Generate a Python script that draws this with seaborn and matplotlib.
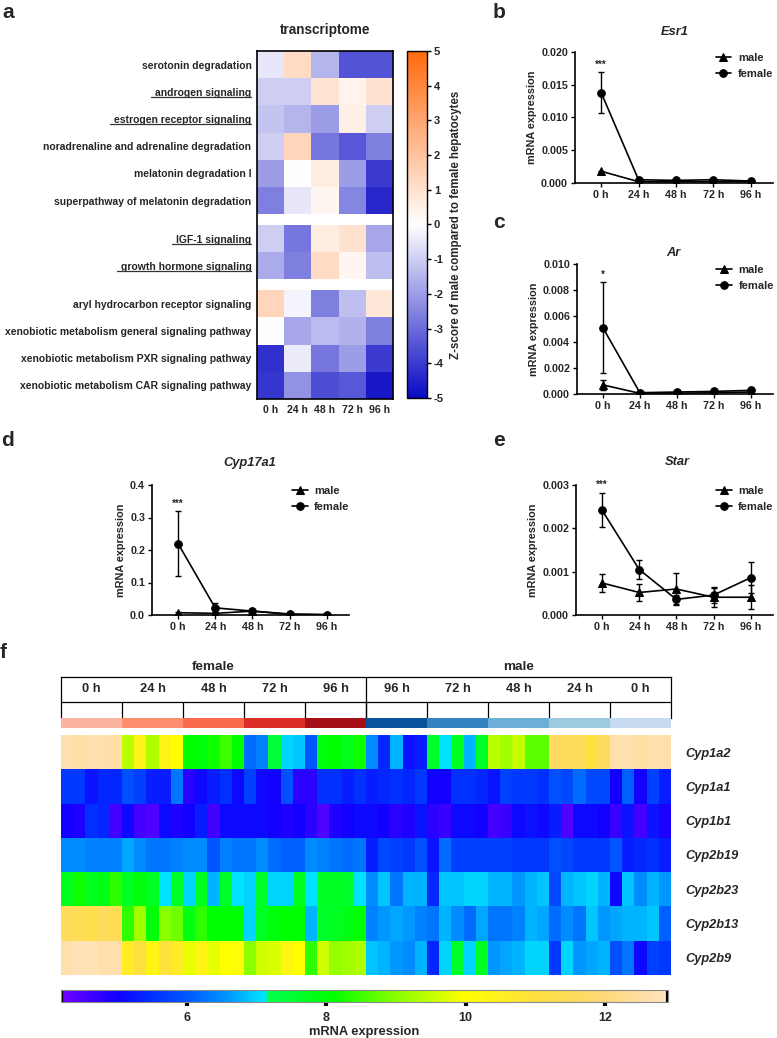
import numpy as np
import pandas as pd
import matplotlib
matplotlib.use("Agg")
import matplotlib.pyplot as plt
import seaborn as sns
from matplotlib.colors import LinearSegmentedColormap, ListedColormap
from matplotlib.lines import Line2D

sns.set_theme(style="white")
plt.rcParams["font.family"] = ["Liberation Sans", "DejaVu Sans"]
plt.rcParams["font.weight"] = "bold"
plt.rcParams["axes.labelweight"] = "bold"
plt.rcParams["axes.titleweight"] = "bold"
plt.rcParams["axes.unicode_minus"] = False

# ---- panel a: pathway z-scores ----
pathways = [
    "serotonin degradation", "androgen signaling", "estrogen receptor signaling",
    "noradrenaline and adrenaline degradation", "melatonin degradation I",
    "superpathway of melatonin degradation", "IGF-1 signaling", "growth hormone signaling",
    "aryl hydrocarbon receptor signaling", "xenobiotic metabolism general signaling pathway",
    "xenobiotic metabolism PXR signaling pathway", "xenobiotic metabolism CAR signaling pathway",
]
underlined = ["androgen signaling", "estrogen receptor signaling", "IGF-1 signaling", "growth hormone signaling"]
times = ["0 h", "24 h", "48 h", "72 h", "96 h"]
z_0h = [-0.5, -1.0, -1.2, -1.0, -2.0, -2.6, -1.0, -1.7, 1.4, 0.0, -4.2, -4.1]
z_24h = [1.2, -1.0, -1.5, 1.4, 0.0, -0.5, -2.8, -2.6, -0.2, -1.8, -0.4, -2.2]
z_48h = [-1.5, 0.9, -2.0, -2.8, 0.6, 0.3, 0.6, 1.2, -2.6, -1.4, -2.8, -3.6]
z_72h = [-3.5, 0.4, 0.5, -3.4, -2.0, -2.5, 1.0, 0.3, -1.3, -1.6, -2.0, -3.4]
z_96h = [-3.5, 1.0, -1.0, -2.6, -4.0, -4.4, -1.8, -1.3, 0.8, -2.6, -4.0, -4.7]

# ---- panels b-e: qPCR means and error ----
esr1_male = [0.0018, 0.0002, 0.0002, 0.0002, 0.0002]
esr1_male_err = [0.0001, 0.00005, 0.00005, 0.00005, 0.00005]
esr1_female = [0.0138, 0.0005, 0.0004, 0.0005, 0.0003]
esr1_female_err = [0.0031, 0.0001, 0.0001, 0.0001, 0.0001]

ar_male = [0.0007, 0.00005, 0.00005, 0.0001, 0.00015]
ar_male_err = [0.0004, 0.00003, 0.00003, 0.00003, 0.00003]
ar_female = [0.0051, 0.0001, 0.00015, 0.0002, 0.00028]
ar_female_err = [0.0035, 0.00003, 0.00003, 0.00005, 0.00005]

cyp17_male = [0.007, 0.005, 0.012, 0.003, 0.001]
cyp17_male_err = [0.003, 0.003, 0.004, 0.002, 0.001]
cyp17_female = [0.22, 0.022, 0.012, 0.002, 0.001]
cyp17_female_err = [0.10, 0.015, 0.006, 0.002, 0.001]

star_male = [0.00074, 0.00052, 0.0006, 0.00041, 0.00041]
star_male_err = [0.00021, 0.0002, 0.00037, 0.00022, 0.00028]
star_female = [0.00242, 0.00105, 0.00036, 0.00046, 0.00086]
star_female_err = [0.0004, 0.00023, 0.0001, 0.00018, 0.00036]

# ---- panel f: Cyp expression, 50 samples ----
genes = ["Cyp1a2", "Cyp1a1", "Cyp1b1", "Cyp2b19", "Cyp2b23", "Cyp2b13", "Cyp2b9"]
group_labels = ["0 h", "24 h", "48 h", "72 h", "96 h", "96 h", "72 h", "48 h", "24 h", "0 h"]
group_colors = ["#fcb4a0", "#fc8d6e", "#fb6a4a", "#dc2e26", "#a50f15",
                "#08529c", "#3383c0", "#6baed6", "#9ecae1", "#c6dbef"]
cyp1a2 = [12.6, 12.5, 12.6, 12.6, 12.5, 9.4, 10.4, 9.3, 10.3, 10.0, 8.1, 8.0, 8.2, 8.5, 8.1,
          6.2, 6.4, 7.4, 7.0, 6.9, 6.0, 8.0, 8.1, 7.8, 8.2, 6.5, 5.4, 6.8, 5.2, 5.3,
          7.6, 7.1, 7.7, 6.8, 7.6, 9.4, 9.2, 9.5, 8.7, 8.7, 11.6, 11.5, 11.5, 11.0, 11.6,
          12.6, 12.6, 12.5, 12.6, 12.6]
cyp1a1 = [5.6, 5.6, 5.2, 5.4, 5.4, 5.9, 5.7, 5.3, 5.3, 6.3, 4.8, 5.1, 5.3, 5.5, 5.1,
          5.7, 5.1, 5.0, 5.9, 4.8, 4.8, 5.5, 5.5, 5.3, 5.5, 5.3, 5.4, 5.5, 5.4, 5.6,
          5.0, 5.0, 5.5, 5.5, 5.4, 5.2, 5.7, 5.6, 5.6, 5.5, 5.9, 5.8, 6.2, 5.8, 5.8,
          5.0, 6.1, 5.0, 5.7, 5.3]
cyp1b1 = [5.0, 4.9, 5.5, 5.4, 4.6, 5.1, 4.6, 4.5, 5.1, 4.9, 5.0, 5.3, 4.6, 5.1, 5.1,
          5.1, 5.1, 5.0, 4.9, 5.0, 4.8, 4.5, 4.9, 5.0, 5.1, 5.1, 5.0, 4.8, 4.9, 5.2,
          4.8, 4.7, 5.1, 5.1, 5.0, 4.6, 4.7, 5.1, 5.2, 5.1, 5.3, 4.5, 5.1, 5.1, 5.0,
          4.7, 5.2, 4.6, 5.2, 4.9]
cyp2b19 = [6.5, 6.5, 6.4, 6.4, 6.4, 6.7, 6.5, 6.3, 6.3, 6.4, 6.5, 6.5, 6.0, 6.4, 6.3,
           6.3, 6.5, 6.2, 6.1, 6.1, 6.5, 6.4, 6.3, 6.2, 6.3, 5.3, 5.8, 5.7, 5.6, 5.9,
           5.2, 6.2, 5.7, 5.7, 5.7, 5.7, 5.7, 5.6, 5.6, 5.6, 5.9, 5.8, 5.6, 5.6, 5.6,
           6.0, 5.3, 5.4, 5.5, 5.3]
cyp2b23 = [7.8, 8.2, 7.8, 7.9, 8.4, 7.7, 8.0, 7.7, 7.1, 7.6, 7.0, 7.8, 6.8, 7.6, 7.1,
           7.0, 7.6, 7.0, 7.0, 7.8, 7.1, 7.7, 7.7, 7.6, 7.1, 6.5, 6.9, 6.3, 6.8, 6.8,
           5.4, 6.9, 6.9, 7.0, 7.0, 6.8, 6.8, 6.6, 6.8, 6.9, 5.8, 6.8, 6.9, 7.0, 6.8,
           5.1, 6.9, 6.5, 6.8, 6.6]
cyp2b13 = [11.5, 11.4, 11.2, 11.5, 11.4, 8.4, 9.2, 8.0, 9.0, 8.8, 7.9, 8.4, 8.1, 8.1, 8.1,
           7.0, 7.7, 8.0, 8.1, 8.1, 6.8, 7.6, 7.7, 7.9, 8.1, 6.4, 6.6, 6.7, 6.6, 6.4,
           6.3, 6.8, 6.5, 6.2, 6.7, 6.3, 6.3, 6.4, 6.8, 6.7, 6.2, 6.5, 6.3, 6.9, 6.6,
           6.7, 6.8, 6.8, 6.9, 6.1]
cyp2b9 = [12.6, 12.7, 12.7, 12.6, 12.6, 10.6, 11.0, 10.3, 10.9, 10.6, 9.8, 10.3, 9.8, 10.0, 10.1,
          9.0, 9.6, 9.7, 10.3, 10.0, 8.4, 9.6, 9.1, 9.2, 9.3, 6.9, 6.8, 6.6, 6.5, 6.8,
          5.4, 7.0, 7.6, 7.0, 7.7, 6.6, 6.7, 6.8, 7.0, 7.0, 5.6, 7.0, 6.6, 6.7, 6.8,
          5.9, 6.3, 5.1, 5.7, 5.6]

W, H = 777, 1038
fig = plt.figure(figsize=(W / 100, H / 100), dpi=100)


def px_axes(x0, y0, x1, y1):
    return fig.add_axes([x0 / W, 1 - y1 / H, (x1 - x0) / W, (y1 - y0) / H])


# panel a
z_df = pd.DataFrame({"0 h": z_0h, "24 h": z_24h, "48 h": z_48h, "72 h": z_72h, "96 h": z_96h},
                    index=pathways)
blocks = [(0, 6), (6, 8), (8, 12)]
rows, ticks, pos = [], [], 0
for b, (s, e) in enumerate(blocks):
    if b > 0:
        rows += [np.full(5, np.nan)] * 2
        pos += 2
    for i in range(s, e):
        rows += [z_df.iloc[i].values] * 5
        ticks.append(pos + 2.5)
        pos += 5
z_mat = np.array(rows)

z_cmap = LinearSegmentedColormap.from_list("z", ["#0a0ac4", "#ffffff", "#ff6a0e"])
ax_a = px_axes(257, 51, 393, 399)
cax_a = px_axes(407, 51, 427, 398)
sns.heatmap(z_mat, cmap=z_cmap, vmin=-5, vmax=5, ax=ax_a, cbar_ax=cax_a,
            xticklabels=times, yticklabels=False)
ax_a.set_yticks(ticks)
ax_a.set_yticklabels(pathways, fontsize=7.5, rotation=0)
ax_a.set_xticklabels(times, fontsize=7.6, rotation=0)
ax_a.tick_params(length=0, pad=4)
for sp in ax_a.spines.values():
    sp.set_visible(True)
    sp.set_color("black")
    sp.set_linewidth(1.2)
fig.text(325 / W, 1 - 30 / H, "transcriptome", ha="center", va="center", fontsize=9.8)
cb_a = ax_a.collections[0].colorbar
cb_a.set_ticks(range(-5, 6))
cb_a.ax.tick_params(labelsize=8, length=3, width=1, color="black", pad=2)
cb_a.outline.set_edgecolor("black")
cb_a.outline.set_linewidth(1)
cb_a.set_label("Z-score of male compared to female hepatocytes", fontsize=8.3, labelpad=4)


# panels b-e
def line_panel(rect, title, title_xy, male, male_err, female, female_err, ylim, yticks, fmt, star):
    ax = px_axes(*rect)
    df = pd.DataFrame({"time": times * 2, "value": male + female,
                       "sex": ["male"] * 5 + ["female"] * 5})
    sns.lineplot(data=df, x="time", y="value", style="sex", markers={"male": "^", "female": "o"},
                 dashes=False, color="black", markersize=5.5, markeredgecolor="black",
                 linewidth=1.2, sort=False, ax=ax)
    ax.errorbar(range(5), male, yerr=male_err, fmt="none", ecolor="black", elinewidth=1, capsize=2)
    ax.errorbar(range(5), female, yerr=female_err, fmt="none", ecolor="black", elinewidth=1, capsize=2)
    ax.text(0, female[0] + female_err[0] + ylim * 0.02, star, ha="center", va="bottom", fontsize=7)
    ax.set_xlim(-0.7, 4.6)
    ax.set_ylim(0, ylim)
    ax.set_yticks(yticks)
    ax.set_yticklabels([fmt.format(t) for t in yticks])
    ax.set_xlabel("")
    ax.set_ylabel("mRNA expression", fontsize=7.8, labelpad=3)
    for s in ["top", "right"]:
        ax.spines[s].set_visible(False)
    for s in ["left", "bottom"]:
        ax.spines[s].set_color("black")
        ax.spines[s].set_linewidth(1.2)
    ax.tick_params(axis="both", labelsize=7.7, length=3, width=1, color="black", direction="out",
                   left=True, bottom=True, pad=2)
    h, l = ax.get_legend_handles_labels()
    keep = [(hh, ll) for hh, ll in zip(h, l) if ll in ("male", "female")]
    ax.legend([k[0] for k in keep], [k[1] for k in keep], frameon=False, loc="upper left",
              bbox_to_anchor=(0.66, 1.07), fontsize=8, handlelength=1.4, handletextpad=0.6,
              labelspacing=0.55)
    fig.text(title_xy[0] / W, 1 - title_xy[1] / H, title, ha="center", va="center",
             fontsize=9.3, style="italic")
    return ax


line_panel((575, 52, 773, 183), "Esr1", (675, 32), esr1_male, esr1_male_err, esr1_female,
           esr1_female_err, 0.020, [0, 0.005, 0.010, 0.015, 0.020], "{:.3f}", "***")
line_panel((577, 264, 773, 394), "Ar", (673, 253), ar_male, ar_male_err, ar_female,
           ar_female_err, 0.010, [0, 0.002, 0.004, 0.006, 0.008, 0.010], "{:.3f}", "*")
line_panel((152, 485, 349, 615), "Cyp17a1", (250, 463), cyp17_male, cyp17_male_err, cyp17_female,
           cyp17_female_err, 0.4, [0, 0.1, 0.2, 0.3, 0.4], "{:.1f}", "***")
line_panel((576, 485, 773, 615), "Star", (677, 462), star_male, star_male_err, star_female,
           star_female_err, 0.003, [0, 0.001, 0.002, 0.003], "{:.3f}", "***")

# panel f header
hx = px_axes(61, 677, 671, 718)
hx.set_xlim(0, 50)
hx.set_ylim(0, 1)
hx.set_xticks([])
hx.set_yticks([])
for s in ["top", "left", "right"]:
    hx.spines[s].set_visible(True)
    hx.spines[s].set_color("black")
    hx.spines[s].set_linewidth(0.9)
hx.spines["bottom"].set_visible(False)
hx.axhline(0.39, color="black", lw=0.9)
hx.axvline(25, color="black", lw=0.9)
for b in range(5, 50, 5):
    hx.plot([b, b], [0, 0.39], color="black", lw=0.9)
for i, g in enumerate(group_labels):
    hx.text(2.5 + 5 * i, 0.70, g, ha="center", va="center", fontsize=9.3)
hx.text(12.5, 1.24, "female", ha="center", va="center", fontsize=9.7, clip_on=False)
hx.text(37.5, 1.24, "male", ha="center", va="center", fontsize=9.7, clip_on=False)

sx = px_axes(61, 718, 671, 728)
sns.heatmap(np.repeat(np.arange(10), 5)[None, :], cmap=ListedColormap(group_colors), vmin=-0.5,
            vmax=9.5, cbar=False, xticklabels=False, yticklabels=False, ax=sx)

# panel f heatmap
vmin, vmax = 4.2, 12.9
nodes = [(4.2, "#7000ff"), (5.0, "#1000ff"), (5.5, "#0030ff"), (6.0, "#0058ff"), (6.6, "#0098ff"),
         (7.13, "#00e8ff"), (7.14, "#00ff50"), (8.1, "#00ff00"), (9.0, "#88ff00"), (10.0, "#ffff00"),
         (11.0, "#ffe040"), (12.0, "#ffd878"), (12.9, "#ffe4c4")]
expr_cmap = LinearSegmentedColormap.from_list(
    "expr", [((v - vmin) / (vmax - vmin), c) for v, c in nodes])
expr_df = pd.DataFrame([cyp1a2, cyp1a1, cyp1b1, cyp2b19, cyp2b23, cyp2b13, cyp2b9], index=genes)

mx = px_axes(61, 735, 671, 975)
cfx = px_axes(61, 990, 668, 1002)
sns.heatmap(expr_df, cmap=expr_cmap, vmin=vmin, vmax=vmax, ax=mx, cbar_ax=cfx,
            cbar_kws={"orientation": "horizontal", "ticks": [6, 8, 10, 12]},
            xticklabels=False, yticklabels=True)
mx.yaxis.tick_right()
mx.set_yticklabels(genes, rotation=0, fontsize=9.2, style="italic")
mx.tick_params(axis="y", length=0, pad=10)
cb_f = mx.collections[0].colorbar
cb_f.outline.set_edgecolor("#888888")
cb_f.outline.set_linewidth(0.8)
cfx.tick_params(axis="x", length=3, width=3, color="black", labelsize=9, pad=4)
cfx.axvline(vmin, color="black", lw=3)
cfx.axvline(vmax, color="black", lw=3)
cb_f.set_label("mRNA expression", fontsize=9.3, labelpad=2)

# panel letters
for letter, x, y in [("a", 2, 13), ("b", 493, 12), ("c", 493, 222), ("d", 1, 440),
                     ("e", 493, 440), ("f", 0, 652)]:
    fig.text(x / W, 1 - y / H, letter, ha="left", va="center", fontsize=15)

# underline the hormone signaling pathways
fig.canvas.draw()
renderer = fig.canvas.get_renderer()
for lbl in ax_a.get_yticklabels():
    if lbl.get_text() in underlined:
        bb = lbl.get_window_extent(renderer)
        fig.add_artist(Line2D([(bb.x0 - 4) / W, bb.x1 / W], [(bb.y0 + 0.5) / H] * 2,
                              transform=fig.transFigure, color="#333333", lw=0.9))

fig.savefig("out.png", dpi=100)
